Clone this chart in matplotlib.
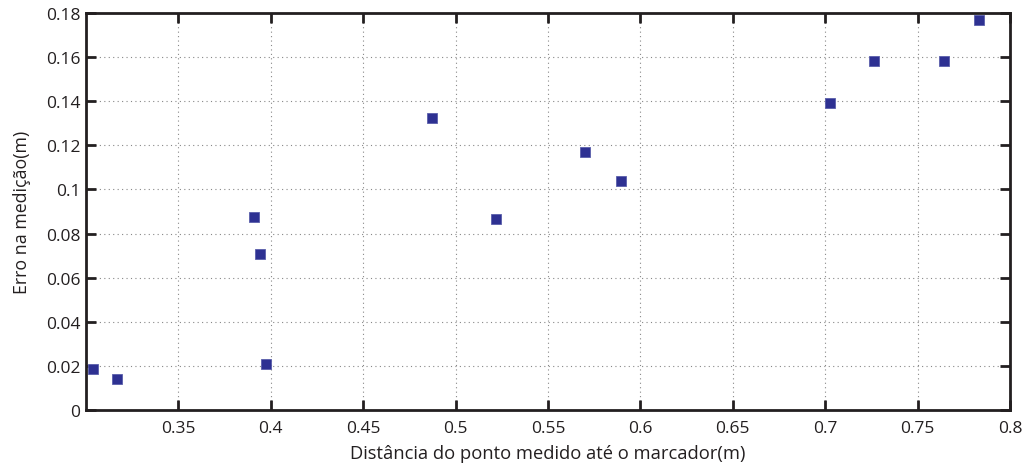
import matplotlib
matplotlib.use("Agg")
import matplotlib.pyplot as plt

dist = [0.3036, 0.3166, 0.3972, 0.3909, 0.3940, 0.4872, 0.5219, 0.5700, 0.5895, 0.7024, 0.7262, 0.7645, 0.7830]
erro = [0.0187, 0.0142, 0.0210, 0.0875, 0.0707, 0.1324, 0.0866, 0.1170, 0.1038, 0.1392, 0.1582, 0.1582, 0.1770]
xticks = [0.35, 0.4, 0.45, 0.5, 0.55, 0.6, 0.65, 0.7, 0.75, 0.8]
xticklabels = ["0.35", "0.4", "0.45", "0.5", "0.55", "0.6", "0.65", "0.7", "0.75", "0.8"]
yticks = [0, 0.02, 0.04, 0.06, 0.08, 0.1, 0.12, 0.14, 0.16, 0.18]
yticklabels = ["0", "0.02", "0.04", "0.06", "0.08", "0.1", "0.12", "0.14", "0.16", "0.18"]

plt.rcParams['font.family'] = ['Open Sans', 'DejaVu Sans']
ink = '#231f20'

fig = plt.figure(figsize=(10.23, 4.64), dpi=100)
ax = fig.add_axes([86/1023, 1-411/464, (1010-86)/1023, (411-14)/464])

ax.plot(dist, erro, linestyle='none', marker='s', markersize=6.5,
        markerfacecolor='#2e3192', markeredgecolor='#5a5eab', markeredgewidth=0.6,
        clip_on=False, zorder=3)

ax.set_xlim(0.3, 0.8)
ax.set_ylim(0, 0.18)
ax.set_xticks(xticks)
ax.set_xticklabels(xticklabels)
ax.set_yticks(yticks)
ax.set_yticklabels(yticklabels)

ax.grid(True, linestyle=(0, (1, 3)), color='#888888', linewidth=0.8)
for s in ax.spines.values():
    s.set_linewidth(2)
    s.set_color(ink)
ax.tick_params(direction='in', length=7, width=2, color=ink, labelsize=12.5,
               labelcolor=ink, top=True, right=True)
ax.tick_params(axis='x', pad=7)
ax.tick_params(axis='y', pad=4)

ax.set_xlabel('Distância do ponto medido até o marcador(m)', fontsize=13.2, color=ink, labelpad=6)
ax.set_ylabel('Erro na medição(m)', fontsize=12.8, color=ink, labelpad=11)

fig.savefig('out.png', dpi=100)
